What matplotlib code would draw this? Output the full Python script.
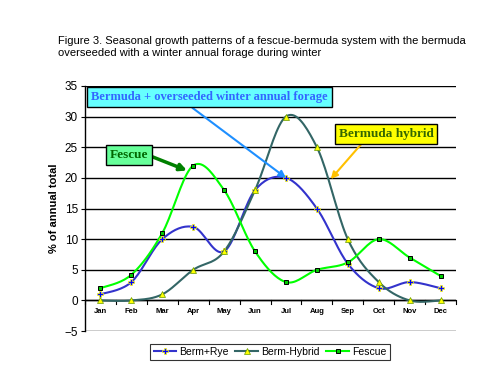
import numpy as np
import matplotlib
matplotlib.use("Agg")
import matplotlib.pyplot as plt

plt.rcParams['font.family'] = ['Liberation Sans', 'DejaVu Sans']

MONTHS = ["Jan", "Feb", "Mar", "Apr", "May", "Jun", "Jul", "Aug", "Sep", "Oct", "Nov", "Dec"]
BERM_RYE = [1, 3, 10, 12, 8, 18, 20, 15, 6, 2, 3, 2]
BERM_HYBRID = [0, 0, 1, 5, 8, 18, 30, 25, 10, 3, 0, 0]
FESCUE = [2, 4.2, 11, 22, 18, 8, 3, 5, 6.2, 10, 7, 4]

TITLE = ("Figure 3. Seasonal growth patterns of a fescue-bermuda system with the bermuda\n"
         "overseeded with a winter annual forage during winter")


def smooth(xs, ys, steps=20):
    # excel-style smoothed line: cardinal spline through the points
    xs = np.asarray(xs, float)
    ys = np.asarray(ys, float)
    px = np.concatenate([[xs[0]], xs, [xs[-1]]])
    py = np.concatenate([[ys[0]], ys, [ys[-1]]])
    out_x, out_y = [], []
    t = np.linspace(0, 1, steps)
    for i in range(1, len(px) - 2):
        p0 = np.array([px[i], py[i]])
        p3 = np.array([px[i + 1], py[i + 1]])
        c1 = p0 + (np.array([px[i + 1], py[i + 1]]) - np.array([px[i - 1], py[i - 1]])) / 6
        c2 = p3 - (np.array([px[i + 2], py[i + 2]]) - np.array([px[i], py[i]])) / 6
        b = ((1 - t) ** 3)[:, None] * p0 + (3 * (1 - t) ** 2 * t)[:, None] * c1 \
            + (3 * (1 - t) * t ** 2)[:, None] * c2 + (t ** 3)[:, None] * p3
        out_x.extend(b[:, 0])
        out_y.extend(b[:, 1])
    return out_x, out_y


fig = plt.figure(figsize=(5, 3.75), dpi=100)
ax = fig.add_axes([0.17, 0.117, 0.742, 0.654])

x = np.arange(len(MONTHS)) + 0.5

series = [
    ("Berm+Rye", BERM_RYE, "#3333CC", dict(marker="P", ms=4, mfc="#0000FF", mec="#FFFF00", mew=0.5)),
    ("Berm-Hybrid", BERM_HYBRID, "#336666", dict(marker="^", ms=4.5, mfc="#FFFF00", mec="#669900", mew=0.5)),
    ("Fescue", FESCUE, "#00FF00", dict(marker="s", ms=3.5, mfc="#00CC00", mec="#000000", mew=0.7)),
]
handles = []
for name, vals, col, mk in series:
    sx, sy = smooth(x, vals)
    ax.plot(sx, sy, color=col, lw=1.5, zorder=3)
    ax.plot(x, vals, ls="none", zorder=4, **mk)
    h, = ax.plot([], [], color=col, lw=1.5, label=name, **mk)
    handles.append(h)

ax.set_xlim(0, 12)
ax.set_ylim(-5, 35)
ax.set_yticks(range(-5, 36, 5))
ax.tick_params(axis="y", labelsize=8.5, length=3, width=0.8, pad=2)
ax.set_xticks([])
ax.grid(axis="y", color="black", lw=1)
for spine in ["top", "right", "bottom"]:
    ax.spines[spine].set_visible(False)
ax.spines["left"].set_linewidth(1)
ax.axhline(0, color="black", lw=1)
for b in range(13):
    ax.plot([b, b], [0, -0.6], color="black", lw=0.8, clip_on=False)
for xi, m in zip(x, MONTHS):
    ax.text(xi, -1.2, m, fontsize=5.5, fontweight="bold", ha="center", va="top")

ax.set_ylabel("% of annual total", fontsize=8, fontweight="bold", labelpad=4)

fig.text(0.116, 0.903, TITLE, fontsize=8, va="top", linespacing=1.2)

serif = ["Liberation Serif", "DejaVu Serif"]
ax.annotate("Bermuda + overseeded winter annual forage", xy=(x[6], BERM_RYE[6]), xytext=(0.2, 33.2),
            fontsize=9, fontweight="bold", family=serif, color="#3366FF", va="center",
            bbox=dict(boxstyle="square,pad=0.35", fc="#66FFFF", ec="black", lw=1),
            arrowprops=dict(arrowstyle="-|>", color="#1E8FFF", lw=1.5, mutation_scale=10,
                            shrinkA=0, shrinkB=0, relpos=(0.4, 0)), zorder=6)
ax.annotate("Fescue", xy=(3.3, 21.2), xytext=(0.8, 23.7),
            fontsize=9.5, fontweight="bold", family=serif, color="#006600", va="center",
            bbox=dict(boxstyle="square,pad=0.3", fc="#66FF99", ec="black", lw=1),
            arrowprops=dict(arrowstyle="-|>", color="#008000", lw=2.5, mutation_scale=10,
                            shrinkA=0, shrinkB=0, relpos=(1, 0.5)), zorder=6)
ax.annotate("Bermuda hybrid", xy=(7.95, 19.8), xytext=(8.2, 27.2),
            fontsize=9.5, fontweight="bold", family=serif, color="#336600", va="center",
            bbox=dict(boxstyle="square,pad=0.3", fc="#FFFF00", ec="black", lw=1),
            arrowprops=dict(arrowstyle="-|>", color="#FFC000", lw=1.5, mutation_scale=10,
                            shrinkA=0, shrinkB=0, relpos=(0.28, 0)), zorder=6)

leg = fig.legend(handles=handles, loc="center", bbox_to_anchor=(0.54, 0.061), ncol=3,
                 fontsize=7.5, frameon=True, fancybox=False, edgecolor="black",
                 handlelength=2.2, handletextpad=0.3, columnspacing=0.6, borderpad=0.3)
leg.get_frame().set_linewidth(0.8)

fig.savefig("out.png", dpi=100)
